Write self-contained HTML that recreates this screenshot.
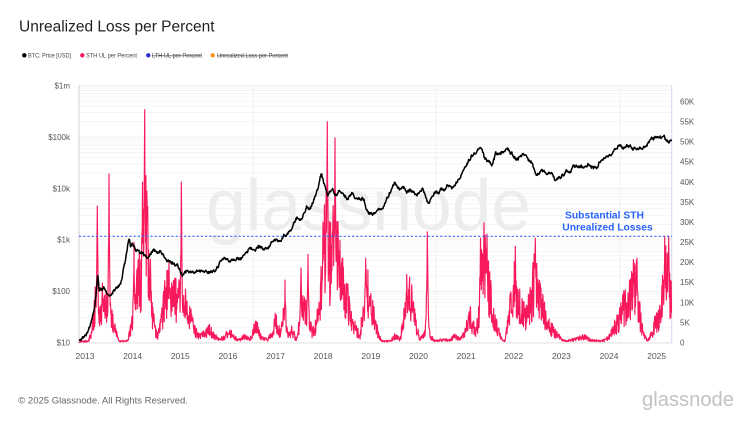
<!DOCTYPE html>
<html><head><meta charset="utf-8">
<style>
html,body{margin:0;padding:0;background:#fff;}
body{width:750px;height:422px;overflow:hidden;position:relative;font-family:"Liberation Sans",Arial,sans-serif;}
svg text{font-family:"Liberation Sans",Arial,sans-serif;}
</style></head>
<body>
<svg id="c" width="750" height="422" viewBox="0 0 750 422" xmlns="http://www.w3.org/2000/svg" style="position:absolute;left:0;top:0">
  <rect x="0" y="0" width="750" height="422" fill="#fff"/>
  <text x="19" y="31.5" font-size="15.5" fill="#222">Unrealized Loss per Percent</text>

  <!-- legend -->
  <g font-size="6.3" fill="#444">
    <circle cx="24.3" cy="55.3" r="2.2" fill="#000"/>
    <text x="28" y="57.5" textLength="43" lengthAdjust="spacingAndGlyphs">BTC: Price [USD]</text>
    <circle cx="82.3" cy="55.3" r="2.2" fill="#f7195c"/>
    <text x="86" y="57.5" textLength="51" lengthAdjust="spacingAndGlyphs">STH UL per Percent</text>
    <circle cx="148.3" cy="55.3" r="2.2" fill="#2b2bd0"/>
    <text x="152" y="57.5" textLength="50" lengthAdjust="spacingAndGlyphs" text-decoration="line-through">LTH UL per Percent</text>
    <circle cx="212.7" cy="55.3" r="2.2" fill="#f7931a"/>
    <text x="217" y="57.5" textLength="71" lengthAdjust="spacingAndGlyphs" text-decoration="line-through">Unrealized Loss per Percent</text>
  </g>

  <g id="grid"></g>

  <!-- watermark -->
  <text x="206" y="230" font-size="72" fill="#ededed" textLength="325" lengthAdjust="spacingAndGlyphs">glassnode</text>

  <!-- axes -->
  <line x1="79" y1="85" x2="79" y2="343" stroke="#d8d8d8" stroke-width="1.2"/>
  <line x1="671.7" y1="85" x2="671.7" y2="343" stroke="#dcd3f5" stroke-width="1"/>
  <line x1="79" y1="343" x2="672" y2="343" stroke="#e4e4e4" stroke-width="1"/>

  <path id="sth" fill="none" stroke="#f7195c" stroke-width="1.15" stroke-linejoin="round"/>
  <line x1="79" y1="236.3" x2="672" y2="236.3" stroke="#3366ff" stroke-width="1.1" stroke-dasharray="2.2,2"/>
  <path id="price" fill="none" stroke="#000" stroke-width="1.5" stroke-linejoin="round"/>

  <g font-size="10.3" font-weight="bold" fill="#2962ff" text-anchor="middle">
    <text x="604.5" y="218.6">Substantial STH</text>
    <text x="607.5" y="230.3">Unrealized Losses</text>
  </g>

  <!-- left axis labels -->
  <g font-size="8" fill="#555" text-anchor="end">
    <text x="70" y="88.5">$1m</text>
    <text x="70" y="139.9">$100k</text>
    <text x="70" y="191.3">$10k</text>
    <text x="70" y="242.7">$1k</text>
    <text x="70" y="294.1">$100</text>
    <text x="70" y="345.5">$10</text>
  </g>
  <g id="rlab" font-size="8" fill="#555"></g>
  <g id="xlab" font-size="8.5" fill="#555" text-anchor="middle"></g>

  <text x="18.3" y="403.3" font-size="9.5" fill="#666">© 2025 Glassnode. All Rights Reserved.</text>
  <text x="642" y="406" font-size="20" fill="#c2c2c2" textLength="92" lengthAdjust="spacingAndGlyphs">glassnode</text>
</svg>
<script>
(function(){
  var NS="http://www.w3.org/2000/svg";
  function el(tag,attrs,parent,txt){var e=document.createElementNS(NS,tag);for(var k in attrs)e.setAttribute(k,attrs[k]);if(txt!==undefined)e.textContent=txt;parent.appendChild(e);return e;}
  var Y10=342.7, DEC=51.4, K=4.017;
  function yP(p){return Y10-(Math.log10(p)-1)*DEC;}
  function xT(t){return 85+(t-2013)*47.64;}
  var grid=document.getElementById('grid');
  for(var d=1;d<=5;d++){
    for(var m=1;m<=9;m++){
      var v=m*Math.pow(10,d); if(v>1e6)break;
      var y=yP(v);
      el('line',{x1:79,x2:672,y1:y,y2:y,stroke:m==1?'#ebebeb':'#f3f3f3','stroke-width':0.8},grid);
    }
  }
  el('line',{x1:79,x2:672,y1:yP(1e6),y2:yP(1e6),stroke:'#ebebeb','stroke-width':0.8},grid);
  [253,436,620].forEach(function(x){el('line',{x1:x,x2:x,y1:85,y2:343,stroke:'#efefef','stroke-width':0.8},grid);});
  var rl=document.getElementById('rlab');
  for(var i=0;i<=12;i++){
    var v=i*5; var y=Y10-v*K;
    el('text',{x:680,y:y+2.8},rl, v==0?'0':(v+'K'));
  }
  var xl=document.getElementById('xlab');
  for(var yr=2013;yr<=2025;yr++){el('text',{x:xT(yr),y:358.8},xl,''+yr);}

  var s=123456789;
  function rnd(){s|=0;s=s+0x6D2B79F5|0;var t=Math.imul(s^s>>>15,1|s);t=t+Math.imul(t^t>>>7,61|t)^t;return ((t^t>>>14)>>>0)/4294967296;}
  function interp(arr,x){
    if(x<=arr[0][0])return arr[0][1];
    for(var i=1;i<arr.length;i++){if(x<=arr[i][0]){var a=arr[i-1],b=arr[i];var f=(x-a[0])/(b[0]-a[0]);return a[1]+(b[1]-a[1])*f;}}
    return arr[arr.length-1][1];
  }
  var pk=[[2012.87,11],[2013.0,13.5],[2013.1,20],[2013.2,45],[2013.27,200],[2013.3,100],[2013.4,120],[2013.5,72],[2013.6,105],[2013.75,140],[2013.85,400],[2013.92,1100],[2013.96,700],[2014.0,800],[2014.1,650],[2014.2,550],[2014.3,450],[2014.4,600],[2014.45,640],[2014.6,580],[2014.7,400],[2014.8,350],[2014.95,320],[2015.04,200],[2015.1,240],[2015.3,230],[2015.5,260],[2015.6,230],[2015.8,300],[2015.85,420],[2015.95,430],[2016.1,400],[2016.3,450],[2016.45,700],[2016.55,650],[2016.8,700],[2016.95,950],[2017.0,1000],[2017.1,950],[2017.2,1200],[2017.35,1800],[2017.45,2700],[2017.55,2500],[2017.65,4500],[2017.7,3600],[2017.8,6000],[2017.9,11000],[2017.96,19000],[2018.05,11000],[2018.1,7000],[2018.2,11000],[2018.25,7000],[2018.33,9500],[2018.5,6200],[2018.6,8000],[2018.7,6500],[2018.85,6300],[2018.9,4000],[2018.96,3300],[2019.1,3500],[2019.25,4100],[2019.4,8000],[2019.5,12500],[2019.55,10000],[2019.7,10000],[2019.75,8200],[2019.82,9300],[2019.95,7200],[2020.1,10200],[2020.2,5000],[2020.3,7500],[2020.45,9500],[2020.55,9200],[2020.6,11500],[2020.75,10700],[2020.85,15000],[2020.95,23000],[2021.05,33000],[2021.15,50000],[2021.25,58000],[2021.3,60000],[2021.4,37000],[2021.5,33000],[2021.55,31000],[2021.62,45000],[2021.75,48000],[2021.85,63000],[2021.95,47000],[2022.05,37000],[2022.15,42000],[2022.25,46000],[2022.4,29000],[2022.47,20000],[2022.6,23000],[2022.7,19500],[2022.8,20500],[2022.86,16500],[2023.0,16600],[2023.1,23000],[2023.2,22000],[2023.25,28000],[2023.45,26500],[2023.55,30000],[2023.65,26000],[2023.75,27000],[2023.85,35000],[2023.95,42000],[2024.05,42000],[2024.1,52000],[2024.2,70000],[2024.3,63000],[2024.4,68000],[2024.5,57000],[2024.6,60000],[2024.7,58000],[2024.8,69000],[2024.88,95000],[2024.96,98000],[2025.05,103000],[2025.15,96000],[2025.2,84000],[2025.3,83000]];
  var pl=pk.map(function(a){return [xT(a[0]),Math.log10(a[1])];});
  var n=0,dp=[];
  for(var x=79;x<=671.5;x+=0.4){
    n=0.8*n+(rnd()-0.5)*0.045;
    var lv=interp(pl,x)+n+(rnd()-0.5)*0.028;
    var y=Y10-(lv-1)*DEC;
    dp.push((dp.length?'L':'M')+x.toFixed(2)+' '+y.toFixed(2));
  }
  document.getElementById('price').setAttribute('d',dp.join(''));

  var env=[[79,0.3],[88,0.5],[92,3],[95,12],[100,10],[104,14],[108,12],[112,8],[116,3],[119,0.5],[127,0.5],[130,3],[133,10],[137,18],[141,20],[143,28],[146,35],[149,25],[152,10],[155,4],[158,2],[162,8],[166,16],[170,19],[174,14],[178,13],[182,16],[186,12],[190,8],[194,4],[200,2],[205,3],[210,4],[215,2],[220,1],[225,2],[230,3],[235,1.5],[240,1],[245,2],[250,1],[253,3],[256,6],[259,3],[262,1.5],[268,1],[272,3],[276,7],[280,3],[284,8],[288,2],[292,4],[296,1],[300,6],[304,12],[308,10],[312,3],[316,5],[318,10],[322,18],[325,35],[328,28],[331,25],[334,35],[337,30],[340,22],[344,18],[348,12],[352,6],[356,4],[360,2],[364,12],[367,18],[370,12],[374,8],[378,3],[382,0.5],[390,0.5],[395,2],[400,1],[404,8],[407,13],[410,15],[413,10],[416,5],[420,1],[425,3],[427,8],[430,2],[435,0.5],[445,1],[450,0.8],[455,2],[460,1],[465,3],[470,8],[475,4],[478,6],[481,20],[484,25],[487,22],[490,15],[494,8],[498,4],[502,1],[505,0.5],[508,6],[512,14],[515,18],[518,14],[521,10],[525,8],[530,12],[535,20],[538,15],[542,12],[546,8],[550,5],[555,3],[560,1.5],[565,0.5],[575,1],[585,2],[590,0.8],[600,0.5],[605,0.8],[610,2],[615,5],[620,8],[625,12],[630,14],[634,18],[637,17],[640,8],[644,2],[648,0.5],[652,3],[656,7],[660,8],[663,16],[665,22],[667,24],[669,18],[671,16]];
  var spikes=[[97.3,34],[109,42],[134,25],[142.5,40],[144.7,58],[146.8,36],[169,20],[181.3,40],[285,15.6],[301,18.6],[308,22],[323,30],[327.3,55],[335,51],[365.7,21],[406.7,17],[427.3,27.6],[480.5,26],[484,29.8],[487,27],[515.3,24],[535.3,26],[637,21],[664.7,26.5],[668.7,26.5]];
  var xs=[];
  for(var x=79;x<=671.5;x+=0.3)xs.push(x);
  spikes.forEach(function(sp){xs.push(sp[0]);});
  xs.sort(function(a,b){return a-b;});
  var sp=[];
  for(var i=0;i<xs.length;i++){
    var x=xs[i];
    var base=interp(env,x);
    var v=base*(0.35+0.85*rnd());
    for(var j=0;j<spikes.length;j++){
      var dx=Math.abs(x-spikes[j][0]);
      if(dx<1.6){var sv=spikes[j][1]*(1-dx/1.6); if(dx>0.01)sv*= (0.7+0.3*rnd()); if(sv>v)v=sv;}
    }
    if(v<0)v=0;
    var y=Y10-v*K;
    sp.push((sp.length?'L':'M')+x.toFixed(2)+' '+y.toFixed(2));
  }
  document.getElementById('sth').setAttribute('d',sp.join(''));
})();
</script>
</body></html>
